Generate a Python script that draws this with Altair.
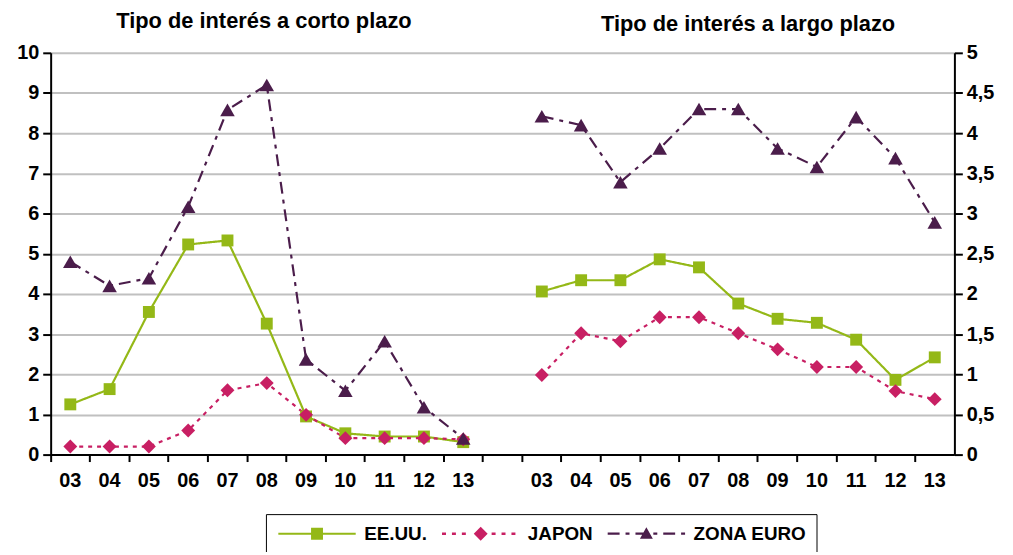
import altair as alt
import pandas as pd

# ---------------- data ----------------
years = ["03", "04", "05", "06", "07", "08", "09", "10", "11", "12", "13"]
series_names = ["EE.UU.", "JAPON", "ZONA EURO"]
titles = ["Tipo de interés a corto plazo", "Tipo de interés a largo plazo"]

eeuu_corto = [1.25, 1.63, 3.55, 5.23, 5.33, 3.26, 0.95, 0.53, 0.45, 0.45, 0.31]
japon_corto = [0.2, 0.2, 0.2, 0.6, 1.6, 1.78, 0.99, 0.41, 0.41, 0.41, 0.38]
euro_corto = [4.8, 4.2, 4.39, 6.17, 8.58, 9.2, 2.37, 1.59, 2.82, 1.18, 0.4]

eeuu_largo = [2.03, 2.17, 2.17, 2.43, 2.33, 1.88, 1.69, 1.64, 1.43, 0.93, 1.21]
japon_largo = [0.99, 1.51, 1.41, 1.71, 1.71, 1.51, 1.31, 1.09, 1.09, 0.79, 0.69]
euro_largo = [4.21, 4.1, 3.39, 3.81, 4.3, 4.3, 3.81, 3.58, 4.2, 3.69, 2.89]

left_ticks = list(range(0, 11))
right_ticks = [0, 0.5, 1, 1.5, 2, 2.5, 3, 3.5, 4, 4.5, 5]

rows = []
for panel, prefix, sets in [
    ("corto", "c", [eeuu_corto, japon_corto, euro_corto]),
    ("largo", "l", [eeuu_largo, japon_largo, euro_largo]),
]:
    for name, vals in zip(series_names, sets):
        for yr, v in zip(years, vals):
            rows.append({"panel": panel, "cat": prefix + yr, "series": name, "value": v})
df = pd.DataFrame(rows)

x_domain = ["c" + y for y in years] + ["gap"] + ["l" + y for y in years]

# ---------------- styles ----------------
FONT = "Liberation Sans"
colors = ["#94B817", "#C81F63", "#4B1D4B"]
dashes = [[1, 0], [4, 5], [12, 6, 4, 6]]
shapes = ["square", "diamond", "triangle-up"]
sizes = [144, 196, 215]

W, H = 911, 405

# legend symbol geometry (pixels), converted to symbol units
SYM_PX = 14.0          # sqrt(symbolSize)
K = SYM_PX / 2.0       # pixels per path unit
CX = SYM_PX / 2.0      # symbol centre inside the legend entry
SPAN = 78.0            # drawn width of the legend line
MID = SPAN / 2.0


def fx(px):
    return (px - CX) / K


def fy(py):
    return py / K


def rect(x0, x1, h):
    return f"M{fx(x0):.3f},{fy(-h):.3f}H{fx(x1):.3f}V{fy(h):.3f}H{fx(x0):.3f}Z"


def dashed(pattern, h, skip=None):
    out = []
    x = 0.0
    i = 0
    while x < SPAN:
        seg = pattern[i % len(pattern)]
        if i % 2 == 0:
            x1 = min(x + seg, SPAN)
            if skip is None or x1 <= MID - skip or x >= MID + skip:
                out.append(rect(x, x1, h))
        x += seg
        i += 1
    return "".join(out)


def poly(pts):
    s = "M" + "L".join(f"{fx(MID + a):.3f},{fy(b):.3f}" for a, b in pts)
    return s + "Z"


legend_paths = [
    rect(0, SPAN, 1.0) + rect(MID - 6, MID + 6, 6),
    dashed([4, 6], 1.3, skip=10) + poly([(0, -7), (7, 0), (0, 7), (-7, 0)]),
    dashed([12, 6, 4, 6], 1.1) + poly([(0, -6.5), (6.5, 5), (-6.5, 5)]),
]

x_enc = alt.X(
    "cat:N",
    scale=alt.Scale(type="band", domain=x_domain, paddingInner=0, paddingOuter=0),
    axis=alt.Axis(
        title=None,
        bandPosition=0,
        labelExpr="datum.value == 'gap' ? '' : substring(datum.value, 1)",
        labelAngle=0,
        labelFont=FONT,
        labelFontSize=20,
        labelFontWeight="bold",
        labelColor="black",
        labelPadding=9,
        domainColor="black",
        domainWidth=2,
        tickColor="black",
        tickWidth=2,
        tickSize=7,
        grid=False,
        labelOverlap=False,
    ),
)


def panel(name, domain, ticks, orient, grid):
    axis = alt.Axis(
        title=None,
        orient=orient,
        values=ticks,
        grid=grid,
        gridColor="#c0c0c0",
        gridWidth=2,
        domainColor="black",
        domainWidth=2,
        tickColor="black",
        tickWidth=2,
        tickSize=8,
        labelFont=FONT,
        labelFontSize=20,
        labelFontWeight="bold",
        labelColor="black",
        labelPadding=4,
        labelExpr="datum.value % 1 == 0 ? format(datum.value, 'd') : replace(format(datum.value, '.1f'), '.', ',')",
    )
    y_enc = alt.Y("value:Q", scale=alt.Scale(domain=domain, nice=False, zero=True), axis=axis)
    base = alt.Chart(df).transform_filter(alt.datum.panel == name)
    layers = []
    for s, c, d in zip(series_names, colors, dashes):
        layers.append(
            base.transform_filter(alt.datum.series == s)
            .mark_line(strokeWidth=2.2, color=c, strokeDash=d)
            .encode(x=x_enc, y=y_enc)
        )
    for s, c, sh, sz in zip(series_names, colors, shapes, sizes):
        layers.append(
            base.transform_filter(alt.datum.series == s)
            .mark_point(shape=sh, filled=True, size=sz, opacity=1, color=c)
            .encode(x=x_enc, y=y_enc)
        )
    return alt.layer(*layers)


left = panel("corto", [0, 10], left_ticks, "left", True)
right = panel("largo", [0, 5], right_ticks, "right", False)

leg_common = dict(
    title=None,
    orient="none",
    legendX=217,
    legendY=465,
    direction="horizontal",
    columns=3,
    labelFont=FONT,
    labelFontSize=19,
    labelFontWeight="bold",
    labelColor="black",
    labelLimit=0,
    labelOffset=SPAN + 6 - SYM_PX,
    columnPadding=12,
    padding=10,
    strokeColor="black",
    symbolSize=SYM_PX * SYM_PX,
    symbolStrokeWidth=0,
    symbolOpacity=1,
)

legend_layer = (
    alt.Chart(df)
    .transform_filter("false")
    .mark_point(filled=True, opacity=1)
    .encode(
        color=alt.Color(
            "series:N",
            scale=alt.Scale(domain=series_names, range=colors),
            legend=alt.Legend(**leg_common),
        ),
        shape=alt.Shape(
            "series:N",
            scale=alt.Scale(domain=series_names, range=legend_paths),
            legend=alt.Legend(**leg_common),
        ),
    )
)

t_left = (
    alt.Chart(alt.Data(values=[{"t": titles[0]}]))
    .mark_text(font=FONT, fontSize=22, fontWeight="bold", color="black", align="center", baseline="alphabetic")
    .encode(text="t:N", x=alt.value(215), y=alt.value(-25))
)
t_right = (
    alt.Chart(alt.Data(values=[{"t": titles[1]}]))
    .mark_text(font=FONT, fontSize=22, fontWeight="bold", color="black", align="center", baseline="alphabetic")
    .encode(text="t:N", x=alt.value(703), y=alt.value(-22))
)

chart = (
    alt.layer(left, right, legend_layer, t_left, t_right)
    .resolve_scale(y="independent")
    .properties(
        width=W,
        height=H,
        autosize=alt.AutoSizeParams(type="none"),
        padding={"left": 43, "top": 43, "right": 51, "bottom": 96},
        background="white",
    )
    .configure_view(stroke=None)
)

chart.save("out.html", embed_options={"renderer": "svg", "actions": False})
